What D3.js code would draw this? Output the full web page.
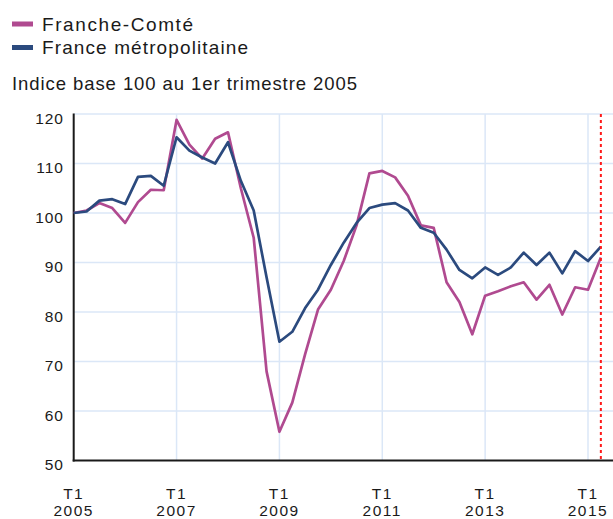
<!DOCTYPE html>
<html>
<head>
<meta charset="utf-8">
<script src="https://cdn.jsdelivr.net/npm/d3@7"></script>
<style>
  body { margin: 0; background: #fff; }
  text { font-family: "Liberation Sans", Arial, sans-serif; fill: #1a1a1a; }
</style>
</head>
<body>
<svg id="chart" width="613" height="519"></svg>
<script>
// trimestres, T1 2005 -> T2 2015
const quarters = [
  "T1 2005", "T2 2005", "T3 2005", "T4 2005",
  "T1 2006", "T2 2006", "T3 2006", "T4 2006",
  "T1 2007", "T2 2007", "T3 2007", "T4 2007",
  "T1 2008", "T2 2008", "T3 2008", "T4 2008",
  "T1 2009", "T2 2009", "T3 2009", "T4 2009",
  "T1 2010", "T2 2010", "T3 2010", "T4 2010",
  "T1 2011", "T2 2011", "T3 2011", "T4 2011",
  "T1 2012", "T2 2012", "T3 2012", "T4 2012",
  "T1 2013", "T2 2013", "T3 2013", "T4 2013",
  "T1 2014", "T2 2014", "T3 2014", "T4 2014",
  "T1 2015", "T2 2015"
];

const franche = [
  100, 100.5, 102, 101, 98, 102.2, 104.7, 104.6,
  118.8, 113.8, 111, 115, 116.3, 105, 95, 68,
  55.8, 61.7, 71.5, 80.5, 84.5, 90.3, 97.5, 108,
  108.5, 107.2, 103.5, 97.5, 97, 86, 82, 75.5,
  83.3, 84.2, 85.2, 86, 82.5, 85.5, 79.5, 85,
  84.5, 91
];

const franceMetro = [
  100, 100.3, 102.5, 102.8, 101.8, 107.3, 107.5, 105.5,
  115.3, 112.6, 111.2, 110, 114.3, 106.5, 100.5, 87,
  74, 76, 80.8, 84.5, 89.5, 94, 98, 101,
  101.7, 102, 100.5, 97, 96, 92.6, 88.5, 86.8,
  89, 87.5, 89, 92, 89.5, 92, 87.8, 92.3,
  90.3, 93.2
];

const yTicks = [50, 60, 70, 80, 90, 100, 110, 120];
const xTickIdx = [0, 8, 16, 24, 32, 40];
const lastIdx = 41; // trait rouge: dernier trimestre

const series = [
  { name: "Franche-Comté", values: franche, color: "#b04a90" },
  { name: "France métropolitaine", values: franceMetro, color: "#2b4a7e" }
];

const svg = d3.select("#chart");

const x = d3.scaleLinear().domain([0, 40]).range([73.7, 588]);
const y = d3.scaleLinear().domain([50, 120]).range([460.5, 114]);
const right = 613;

// grille
svg.append("g")
  .selectAll("line")
  .data(yTicks.filter((d) => d > 50))
  .join("line")
  .attr("x1", x(0))
  .attr("x2", right)
  .attr("y1", (d) => y(d))
  .attr("y2", (d) => y(d))
  .attr("stroke", "#dbe7f7")
  .attr("stroke-width", 1.5);

svg.append("g")
  .selectAll("line")
  .data(xTickIdx.filter((d) => d > 0))
  .join("line")
  .attr("x1", (d) => x(d))
  .attr("x2", (d) => x(d))
  .attr("y1", y(120))
  .attr("y2", y(50))
  .attr("stroke", "#dbe7f7")
  .attr("stroke-width", 1.5);

// axes
svg.append("line")
  .attr("x1", x(0)).attr("x2", x(0))
  .attr("y1", y(120) - 0.5).attr("y2", y(50) + 1)
  .attr("stroke", "#1a1a1a").attr("stroke-width", 2);
svg.append("line")
  .attr("x1", x(0) - 1).attr("x2", right)
  .attr("y1", y(50)).attr("y2", y(50))
  .attr("stroke", "#1a1a1a").attr("stroke-width", 2);

svg.append("g")
  .selectAll("text")
  .data(yTicks)
  .join("text")
  .attr("x", 64)
  .attr("y", (d) => y(d) + 9.5)
  .attr("text-anchor", "end")
  .style("font-size", "15.5px")
  .style("letter-spacing", "1px")
  .text((d) => d);

const xl = svg.append("g")
  .selectAll("text")
  .data(xTickIdx)
  .join("text")
  .attr("text-anchor", "middle")
  .style("font-size", "15.5px")
  .style("letter-spacing", "1.5px");
xl.append("tspan")
  .attr("x", (d) => x(d))
  .attr("y", 499)
  .text((d) => quarters[d].split(" ")[0]);
xl.append("tspan")
  .attr("x", (d) => x(d))
  .attr("y", 516)
  .text((d) => quarters[d].split(" ")[1]);

// courbes
const line = d3.line()
  .x((d, i) => x(i))
  .y((d) => y(d));

svg.append("g")
  .selectAll("path")
  .data(series)
  .join("path")
  .attr("d", (d) => line(d.values))
  .attr("fill", "none")
  .attr("stroke", (d) => d.color)
  .attr("stroke-width", 2.7)
  .attr("stroke-linejoin", "round");

// dernier point
svg.append("line")
  .attr("x1", x(lastIdx)).attr("x2", x(lastIdx))
  .attr("y1", y(120)).attr("y2", y(50))
  .attr("stroke", "#ff1a1a")
  .attr("stroke-width", 2)
  .attr("stroke-dasharray", "3,3");

// légende
const leg = svg.append("g")
  .selectAll("g")
  .data(series)
  .join("g")
  .attr("transform", (d, i) => `translate(12,${21.5 + i * 23.5})`);
leg.append("rect")
  .attr("width", 21).attr("height", 5)
  .attr("fill", (d) => d.color);
leg.append("text")
  .attr("x", 30)
  .attr("y", 9)
  .style("font-size", "19px")
  .attr("textLength", (d, i) => (i === 0 ? 151 : 206))
  .attr("lengthAdjust", "spacing")
  .text((d) => d.name);

svg.append("text")
  .attr("x", 12)
  .attr("y", 90)
  .style("font-size", "18.5px")
  .attr("textLength", 345)
  .attr("lengthAdjust", "spacing")
  .text("Indice base 100 au 1er trimestre 2005");
</script>
</body>
</html>
